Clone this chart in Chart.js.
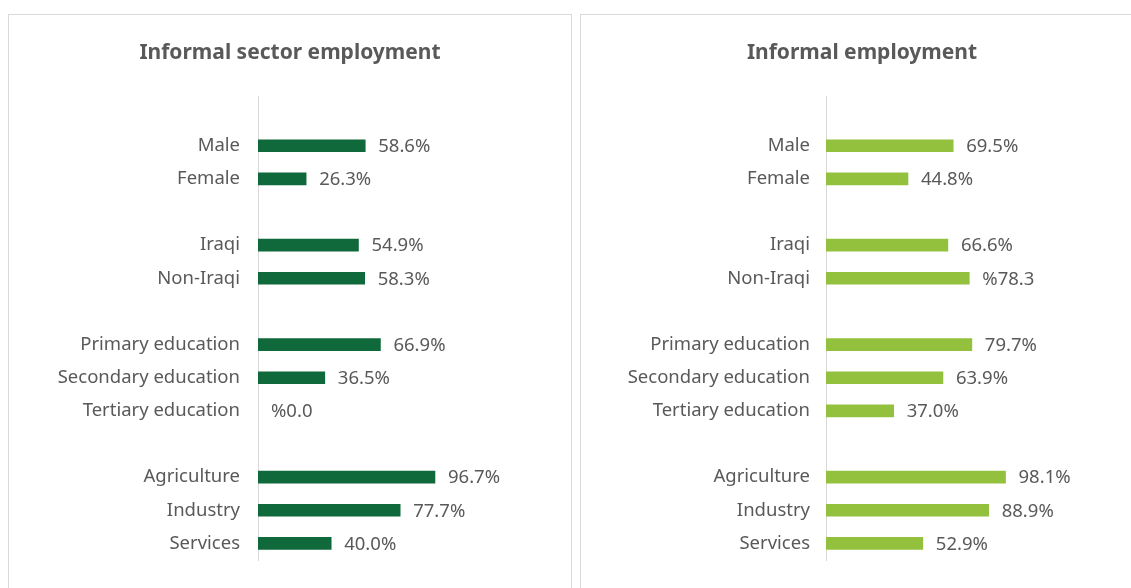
<!DOCTYPE html>
<html lang="en">
<head>
  <meta charset="UTF-8" />
  <title>Informal employment</title>
  <script src="https://cdn.jsdelivr.net/npm/chart.js"></script>
  <style>
    body { margin: 0; background: #fff; width: 1131px; height: 588px; overflow: hidden; position: relative; }
    .panel { position: absolute; top: 14px; height: 600px; box-sizing: border-box; border: 1px solid #d9d9d9; }
    .panel canvas { position: absolute; left: 0; top: 0; }
  </style>
</head>
<body>
  <div class="panel" style="left:8px; width:564px;">
    <canvas id="sectorChart" width="562" height="590"></canvas>
  </div>
  <div class="panel" style="left:580px; width:563px;">
    <canvas id="informalChart" width="562" height="590"></canvas>
  </div>

  <script>
    // categories (blank rows separate the groups)
    const categories = ["", "Male", "Female", "", "Iraqi", "Non-Iraqi", "",
      "Primary education", "Secondary education", "Tertiary education", "",
      "Agriculture", "Industry", "Services"];

    const sectorValues = [null, 58.6, 26.3, null, 54.9, 58.3, null, 66.9, 36.5, 0, null, 96.7, 77.7, 40.0];
    const sectorLabels = ["", "58.6%", "26.3%", "", "54.9%", "58.3%", "", "66.9%", "36.5%", "%0.0", "", "96.7%", "77.7%", "40.0%"];

    const informalValues = [null, 69.5, 44.8, null, 66.6, 78.3, null, 79.7, 63.9, 37.0, null, 98.1, 88.9, 52.9];
    const informalLabels = ["", "69.5%", "44.8%", "", "66.6%", "%78.3", "", "79.7%", "63.9%", "37.0%", "", "98.1%", "88.9%", "52.9%"];

    const textColor = "#595959";
    const fontFamily = "'Noto Sans', 'Open Sans', sans-serif";

    // title + value labels
    const extraText = {
      id: "extraText",
      afterDatasetsDraw(chart, args, opts) {
        const ctx = chart.ctx;
        const meta = chart.getDatasetMeta(0);
        ctx.save();
        ctx.fillStyle = textColor;
        ctx.textBaseline = "middle";

        ctx.font = "bold 21px " + fontFamily;
        ctx.textAlign = "center";
        ctx.fillText(opts.title, chart.width / 2, 38);

        ctx.font = "18.5px " + fontFamily;
        ctx.textAlign = "left";
        meta.data.forEach((bar, i) => {
          const txt = opts.labels[i];
          if (!txt) return;
          ctx.fillText(txt, bar.x + 13, bar.y + 1);
        });
        ctx.restore();
      }
    };

    function makeChart(id, title, values, labels, color, axisWidth, padRight, tickPad) {
      new Chart(document.getElementById(id), {
        type: "bar",
        data: {
          labels: categories,
          datasets: [{
            data: values,
            backgroundColor: (c) => (c.raw ? color : "rgba(0,0,0,0)"),
            borderWidth: 0,
            barThickness: 12
          }]
        },
        options: {
          indexAxis: "y",
          responsive: false,
          animation: false,
          layout: { padding: { left: 0, right: padRight, top: 81, bottom: 45 } },
          plugins: {
            legend: { display: false },
            tooltip: { enabled: false },
            title: { display: false },
            extraText: { title: title, labels: labels }
          },
          scales: {
            x: { display: false, min: 0, max: 100 },
            y: {
              afterFit(scale) { scale.width = axisWidth; },
              grid: { display: false, drawTicks: false },
              border: { display: true, color: "#d9d9d9", width: 1 },
              ticks: {
                color: textColor,
                padding: tickPad,
                autoSkip: false,
                font: { family: fontFamily, size: 18.5 }
              }
            }
          }
        },
        plugins: [extraText]
      });
    }

    makeChart("sectorChart", "Informal sector employment", sectorValues, sectorLabels, "#10693a", 249, 130, 18);
    makeChart("informalChart", "Informal employment", informalValues, informalLabels, "#93c13d", 245, 134, 16);
  </script>
</body>
</html>
